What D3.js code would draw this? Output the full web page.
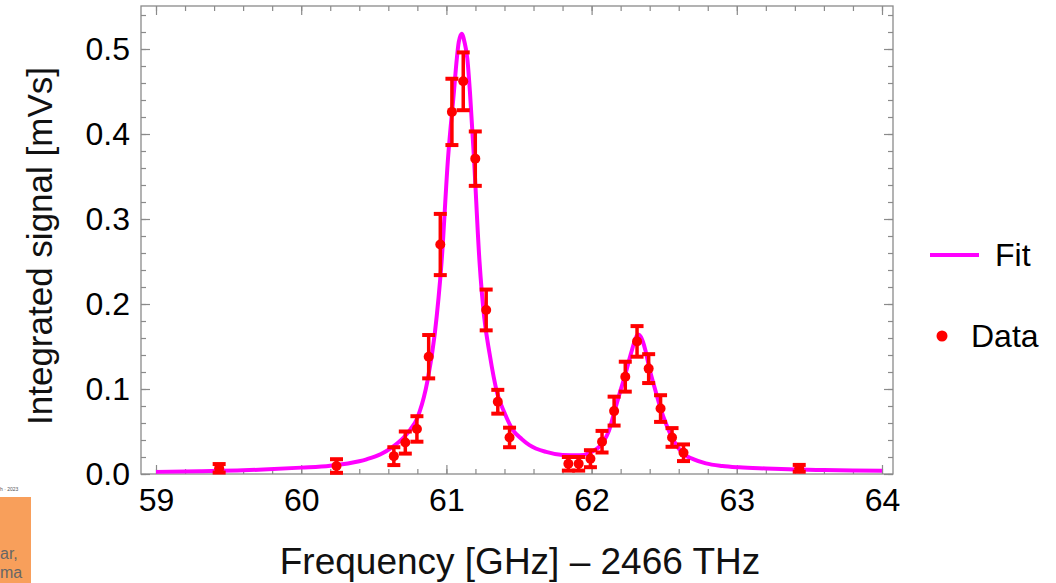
<!DOCTYPE html>
<html>
<head>
<meta charset="utf-8">
<script src="https://cdn.jsdelivr.net/npm/d3@7"></script>
<style>
  body { margin: 0; background: #fff; }
  svg { display: block; font-family: "Liberation Sans", Arial, sans-serif; }
</style>
</head>
<body>
<svg id="chart" width="1056" height="583"></svg>
<script>
'use strict';

// measured points: frequency offset [GHz], signal [mVs], error
const dataFreq = [59.435, 60.243, 60.638, 60.717, 60.797, 60.878, 60.958, 61.038, 61.116, 61.199, 61.274, 61.354, 61.435,
                  61.840, 61.911, 61.992, 62.072, 62.155, 62.232, 62.313, 62.393, 62.475, 62.554, 62.633, 63.430];
const dataSignal = [0.0067, 0.0094, 0.021, 0.037, 0.053, 0.138, 0.270, 0.426, 0.462, 0.371, 0.193, 0.085, 0.043,
                    0.012, 0.012, 0.018, 0.038, 0.074, 0.1145, 0.156, 0.124, 0.077, 0.043, 0.025, 0.0067];
const dataErr = [0.005, 0.008, 0.0105, 0.013, 0.015, 0.0255, 0.036, 0.039, 0.034, 0.032, 0.024, 0.014, 0.0115,
                 0.008, 0.008, 0.01, 0.0127, 0.017, 0.0176, 0.018, 0.017, 0.0157, 0.011, 0.0098, 0.004];

// fit curve
const fitFreq = [59.0, 59.3, 59.6, 59.74, 60.0, 60.2, 60.4, 60.45, 60.55, 60.63, 60.7, 60.75, 60.8, 60.815, 60.87, 60.92,
                 60.967, 61.011, 61.052, 61.072, 61.085, 61.105, 61.125, 61.144, 61.162, 61.19, 61.228, 61.26, 61.297,
                 61.35, 61.4, 61.457, 61.52, 61.572, 61.687, 61.8, 61.916, 62.0, 62.077, 62.12, 62.155, 62.195, 62.232,
                 62.27, 62.3, 62.318, 62.34, 62.37, 62.4, 62.44, 62.475, 62.52, 62.554, 62.6, 62.63, 62.7, 62.787,
                 62.9, 63.016, 63.2, 63.36, 63.6, 63.8, 64.0];
const fitSignal = [0.0025, 0.0033, 0.0043, 0.0052, 0.0075, 0.0098, 0.015, 0.0173, 0.0235, 0.032, 0.042, 0.052, 0.066, 0.073, 0.110, 0.165,
                   0.25, 0.371, 0.45, 0.489, 0.508, 0.518, 0.508, 0.489, 0.45, 0.371, 0.25, 0.185, 0.142,
                   0.095, 0.072, 0.052, 0.041, 0.034, 0.026, 0.0224, 0.022, 0.026, 0.037, 0.051, 0.072, 0.096, 0.117,
                   0.141, 0.158, 0.164, 0.161, 0.146, 0.123, 0.098, 0.077, 0.056, 0.043, 0.030, 0.024, 0.0175, 0.0125,
                   0.0095, 0.0079, 0.0065, 0.0055, 0.0047, 0.0042, 0.0038];

const xTicks = [59, 60, 61, 62, 63, 64];
const yTicks = [0.0, 0.1, 0.2, 0.3, 0.4, 0.5];

const plot = {left: 141, right: 893, top: 6, bottom: 474};
const frameColor = '#8a8a8a';
const tickFont = 32;

const svg = d3.select('#chart');

const x = d3.scaleLinear()
    .domain([58.8967, 64.0758])
    .range([plot.left, plot.right]);
const y = d3.scaleLinear()
    .domain([0, 0.5506])
    .range([plot.bottom, plot.top]);

// piece of the slide in the bottom-left corner
svg.append('rect')
    .attr('x', 0).attr('y', 497).attr('width', 31).attr('height', 86)
    .attr('fill', '#f89f5b');
svg.append('text')
    .attr('x', 0).attr('y', 491)
    .attr('font-size', 5).attr('fill', '#555')
    .text('h · 2023');
svg.append('text')
    .attr('x', 0).attr('y', 559)
    .attr('font-size', 16).attr('fill', '#666')
    .text('ar,');
svg.append('text')
    .attr('x', 0).attr('y', 578)
    .attr('font-size', 16).attr('fill', '#666')
    .text('ma');

// frame
svg.append('rect')
    .attr('x', plot.left).attr('y', plot.top)
    .attr('width', plot.right - plot.left).attr('height', plot.bottom - plot.top)
    .attr('fill', 'none')
    .attr('stroke', frameColor)
    .attr('stroke-width', 1.3);

var minorX = d3.range(59, 64.01, 0.2).map(d => +d.toFixed(1));
var minorY = d3.range(0, 0.55, 0.02).map(d => +d.toFixed(2));

function styleAxis(g) {
    g.select('.domain').remove();
    g.selectAll('.tick line').attr('stroke', frameColor).attr('stroke-width', 1.2);
    g.selectAll('.tick text')
        .attr('fill', '#000')
        .attr('font-size', tickFont)
        .attr('font-family', '"Liberation Sans", Arial, sans-serif');
}

// x axis, ticks pointing inwards
svg.append('g')
    .attr('transform', `translate(0,${plot.bottom})`)
    .call(d3.axisBottom(x).tickValues(minorX).tickSize(-5).tickFormat(''))
    .call(styleAxis);
svg.append('g')
    .attr('transform', `translate(0,${plot.bottom})`)
    .call(d3.axisBottom(x).tickValues(xTicks).tickSize(-9).tickPadding(14).tickFormat(d3.format('d')))
    .call(styleAxis);
svg.append('g')
    .attr('transform', `translate(0,${plot.top})`)
    .call(d3.axisTop(x).tickValues(minorX).tickSize(-5).tickFormat(''))
    .call(styleAxis);
svg.append('g')
    .attr('transform', `translate(0,${plot.top})`)
    .call(d3.axisTop(x).tickValues(xTicks).tickSize(-9).tickFormat(''))
    .call(styleAxis);

// y axis
svg.append('g')
    .attr('transform', `translate(${plot.left},0)`)
    .call(d3.axisLeft(y).tickValues(minorY).tickSize(-5).tickFormat(''))
    .call(styleAxis);
svg.append('g')
    .attr('transform', `translate(${plot.left},0)`)
    .call(d3.axisLeft(y).tickValues(yTicks).tickSize(-9).tickPadding(11).tickFormat(d3.format('.1f')))
    .call(styleAxis);
svg.append('g')
    .attr('transform', `translate(${plot.right},0)`)
    .call(d3.axisRight(y).tickValues(minorY).tickSize(-5).tickFormat(''))
    .call(styleAxis);
svg.append('g')
    .attr('transform', `translate(${plot.right},0)`)
    .call(d3.axisRight(y).tickValues(yTicks).tickSize(-9).tickFormat(''))
    .call(styleAxis);

// fit
var fitPts = fitFreq.map((f, i) => ({f: f, s: fitSignal[i]}));
var line = d3.line()
    .curve(d3.curveMonotoneX)
    .x(d => x(d.f))
    .y(d => y(d.s));

svg.append('path')
    .datum(fitPts)
    .attr('d', line)
    .attr('fill', 'none')
    .attr('stroke', '#ff00ff')
    .attr('stroke-width', 4);

// data with error bars
var pts = dataFreq.map((f, i) => ({f: f, s: dataSignal[i], e: dataErr[i]}));
var red = '#ff0000';
var capW = 6.5;
var bars = svg.append('g').selectAll('g')
    .data(pts)
    .enter().append('g');

bars.append('line')
    .attr('x1', d => x(d.f)).attr('x2', d => x(d.f))
    .attr('y1', d => y(d.s - d.e)).attr('y2', d => y(d.s + d.e))
    .attr('stroke', red).attr('stroke-width', 3.5);
bars.append('line')
    .attr('x1', d => x(d.f) - capW).attr('x2', d => x(d.f) + capW)
    .attr('y1', d => y(d.s + d.e)).attr('y2', d => y(d.s + d.e))
    .attr('stroke', red).attr('stroke-width', 4);
bars.append('line')
    .attr('x1', d => x(d.f) - capW).attr('x2', d => x(d.f) + capW)
    .attr('y1', d => y(d.s - d.e)).attr('y2', d => y(d.s - d.e))
    .attr('stroke', red).attr('stroke-width', 4);
bars.append('circle')
    .attr('cx', d => x(d.f)).attr('cy', d => y(d.s))
    .attr('r', 5)
    .attr('fill', red);

// axis titles
svg.append('text')
    .attr('x', 520).attr('y', 574)
    .attr('text-anchor', 'middle')
    .attr('font-size', 37)
    .attr('fill', '#111')
    .text('Frequency [GHz] \u2013 2466 THz');

svg.append('text')
    .attr('transform', 'translate(52,246) rotate(-90)')
    .attr('text-anchor', 'middle')
    .attr('font-size', 35)
    .attr('fill', '#111')
    .text('Integrated signal [mVs]');

// legend
var legend = svg.append('g');
legend.append('line')
    .attr('x1', 930).attr('x2', 979)
    .attr('y1', 255).attr('y2', 255)
    .attr('stroke', '#ff00ff').attr('stroke-width', 4);
legend.append('text')
    .attr('x', 995).attr('y', 266)
    .attr('font-size', tickFont).attr('fill', '#000')
    .text('Fit');
legend.append('circle')
    .attr('cx', 942).attr('cy', 336).attr('r', 5.5)
    .attr('fill', red);
legend.append('text')
    .attr('x', 971).attr('y', 347)
    .attr('font-size', tickFont).attr('fill', '#000')
    .text('Data');
</script>
</body>
</html>
